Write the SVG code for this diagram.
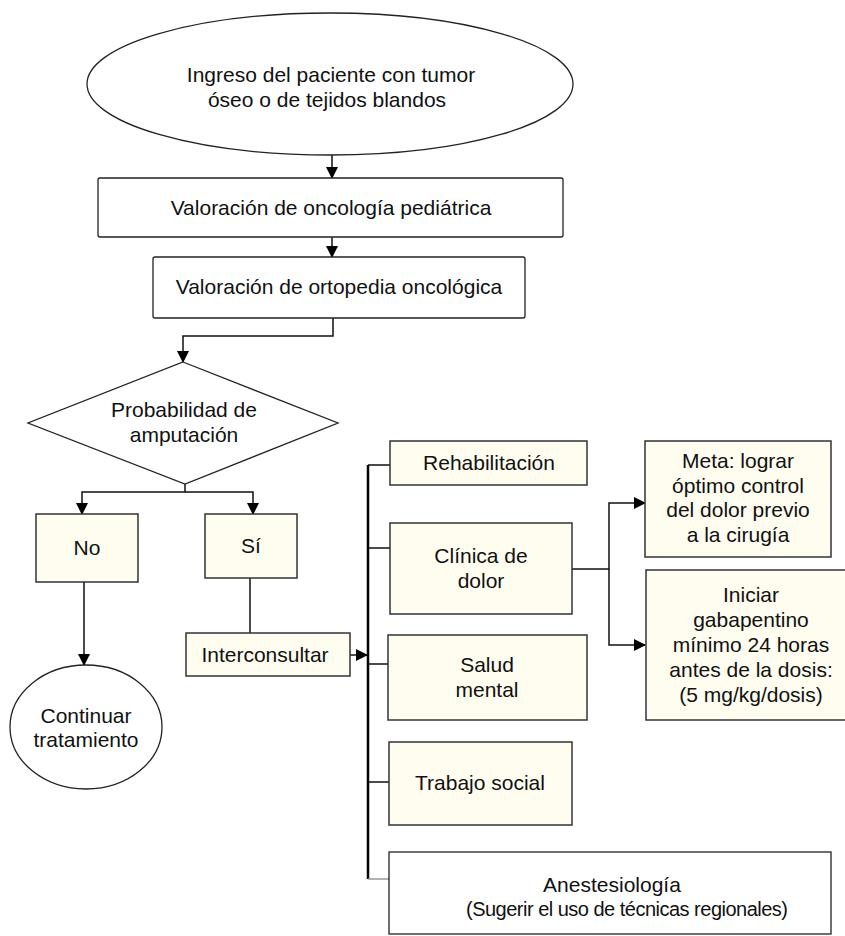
<svg xmlns="http://www.w3.org/2000/svg" width="845" height="936" viewBox="0 0 845 936">
<defs>
<style>
text{font-family:"Liberation Sans",Arial,Helvetica,sans-serif;font-size:21px;fill:#111;text-anchor:middle}
.w{fill:#fff;stroke:#222;stroke-width:1.3}
.c{fill:#fefdf0;stroke:#333;stroke-width:1.5}
.ln{fill:none;stroke:#111;stroke-width:1.5}
.bar{fill:none;stroke:#000;stroke-width:2.5}
</style>
<marker id="ah" markerUnits="userSpaceOnUse" markerWidth="12" markerHeight="12" viewBox="0 0 12 12" refX="11" refY="6" orient="auto">
<path d="M0,0 L12,6 L0,12 Z" fill="#000"/>
</marker>
</defs>
<g id="connectors">
<path class="ln" d="M332,155 V178" marker-end="url(#ah)"/>
<path class="ln" d="M332,237 V257" marker-end="url(#ah)"/>
<path class="ln" d="M333,318 V336 H183 V362" marker-end="url(#ah)"/>
<path class="ln" d="M185,484 V492 H82 V514" marker-end="url(#ah)"/>
<path class="ln" d="M185,492 H253 V514" marker-end="url(#ah)"/>
<path class="ln" d="M84,582 V665" marker-end="url(#ah)"/>
<path class="ln" stroke-width="2" d="M250,578 V633"/>
<path class="ln" d="M350,655 H367" marker-end="url(#ah)"/>
<path class="bar" d="M368,465 V879"/>
<path class="ln" stroke-width="2" d="M368,465 H390 M368,548 H390 M368,664 H388 M368,782 H389"/>
<path fill="none" stroke="#999" stroke-width="1.5" d="M368,879 H389"/>
<path class="ln" d="M572,569 H609 V503 H645" marker-end="url(#ah)"/>
<path class="ln" d="M609,569 V645 H645" marker-end="url(#ah)"/>
</g>
<g id="ingreso">
<ellipse class="w" cx="330" cy="84" rx="243" ry="71"/>
<text x="331" y="82">Ingreso del paciente con tumor</text>
<text x="327" y="107">óseo o de tejidos blandos</text>
</g>
<g id="onco-ped">
<rect class="w" x="98" y="178" width="465" height="59" rx="2"/>
<text x="331" y="215">Valoración de oncología pediátrica</text>
</g>
<g id="orto-onco">
<rect class="w" x="153" y="257" width="372" height="61" rx="2"/>
<text x="339" y="294">Valoración de ortopedia oncológica</text>
</g>
<g id="decision">
<path class="w" d="M183,362 L338,423 L185,484 L28,423 Z"/>
<text x="184" y="417">Probabilidad de</text>
<text x="184" y="442">amputación</text>
</g>
<g id="no">
<rect class="c" x="36" y="514" width="102" height="68"/>
<text x="87" y="555">No</text>
</g>
<g id="si">
<rect class="c" x="205" y="514" width="92" height="64"/>
<text x="251" y="553">Sí</text>
</g>
<g id="continuar">
<ellipse class="w" cx="86" cy="727" rx="76" ry="62"/>
<text x="86" y="723">Continuar</text>
<text x="86" y="747">tratamiento</text>
</g>
<g id="interconsultar">
<rect class="c" x="186" y="633" width="164" height="43"/>
<text x="265" y="662">Interconsultar</text>
</g>
<g id="rehabilitacion">
<rect class="c" x="390" y="441" width="197" height="44"/>
<text x="489" y="470">Rehabilitación</text>
</g>
<g id="clinica-dolor">
<rect class="c" x="390" y="523" width="182" height="91"/>
<text x="481" y="563">Clínica de</text>
<text x="481" y="588">dolor</text>
</g>
<g id="salud-mental">
<rect class="c" x="388" y="635" width="199" height="85"/>
<text x="487" y="672">Salud</text>
<text x="487" y="697">mental</text>
</g>
<g id="trabajo-social">
<rect class="c" x="389" y="742" width="183" height="83"/>
<text x="480" y="790">Trabajo social</text>
</g>
<g id="anestesiologia">
<rect class="w" x="389" y="852" width="442" height="82"/>
<text x="612" y="892">Anestesiología</text>
<text x="627" y="916" style="font-size:20px" textLength="322" lengthAdjust="spacing">(Sugerir el uso de técnicas regionales)</text>
</g>
<g id="meta">
<rect class="c" x="645" y="441" width="186" height="116"/>
<text x="738" y="468">Meta: lograr</text>
<text x="738" y="493">óptimo control</text>
<text x="738" y="517">del dolor previo</text>
<text x="738" y="542">a la cirugía</text>
</g>
<g id="gabapentino">
<rect class="c" x="646" y="570" width="210" height="150"/>
<text x="751" y="602">Iniciar</text>
<text x="751" y="627">gabapentino</text>
<text x="751" y="652">mínimo 24 horas</text>
<text x="751" y="677">antes de la dosis:</text>
<text x="751" y="702">(5 mg/kg/dosis)</text>
</g>
</svg>
